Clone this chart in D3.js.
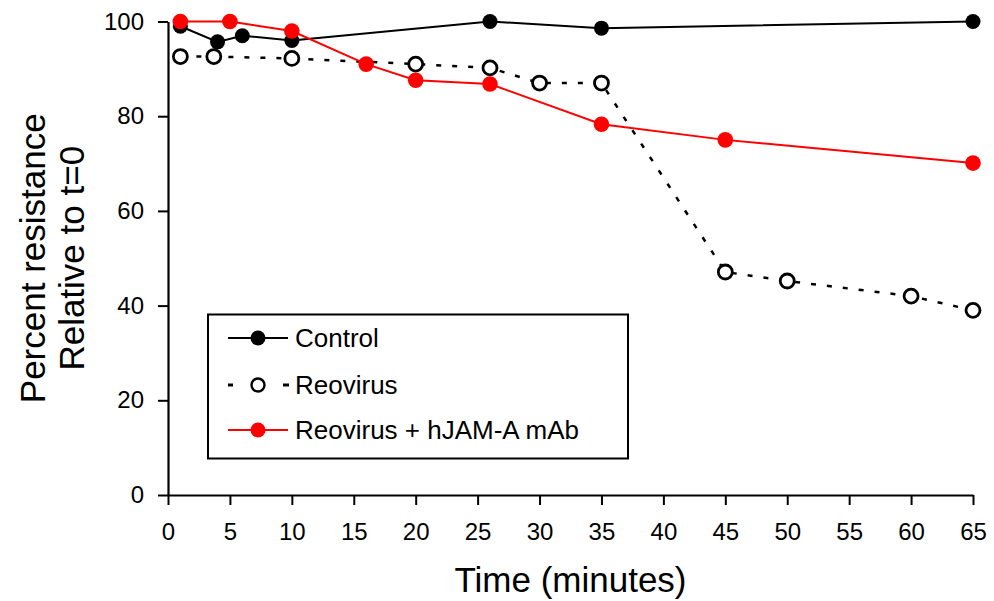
<!DOCTYPE html>
<html>
<head>
<meta charset="utf-8">
<script src="https://cdn.jsdelivr.net/npm/d3@7"></script>
<style>
  body { margin: 0; background: #fff; }
  text { font-family: "Liberation Sans", Arial, sans-serif; }
</style>
</head>
<body>
<div id="chart"></div>
<script>
// values
var controlTime = [1, 4, 6, 10, 26, 35, 65]
var controlVal  = [99, 95.7, 97, 96, 100, 98.6, 100]

var reoTime = [1, 3.7, 10, 20, 26, 30, 35, 45, 50, 60, 65]
var reoVal  = [92.6, 92.6, 92.2, 91, 90.2, 87, 87, 47.1, 45.2, 42, 39]

var mabTime = [1, 5, 10, 16, 20, 26, 35, 45, 65]
var mabVal  = [100, 100, 98, 91, 87.6, 86.8, 78.3, 75, 70.1]

var xTicks = [0, 5, 10, 15, 20, 25, 30, 35, 40, 45, 50, 55, 60, 65]
var yTicks = [0, 20, 40, 60, 80, 100]

var seriesNames = ["Control", "Reovirus", "Reovirus + hJAM-A mAb"]

var width = 994, height = 601
var svg = d3.select("#chart").append("svg")
    .attr("width", width)
    .attr("height", height)

var x = d3.scaleLinear().domain([0, 65]).range([168, 973])
var y = d3.scaleLinear().domain([0, 100]).range([495, 21.5])

var line = d3.line()
    .x(function(d) { return x(d[0]) })
    .y(function(d) { return y(d[1]) })

function zip(t, v) {
    return t.map(function(d, i) { return [d, v[i]] })
}

// axes
var yAxis = svg.append("g")
    .attr("transform", "translate(" + x(0) + ",0)")
    .call(d3.axisLeft(y).tickValues(yTicks).tickSize(10).tickPadding(14).tickSizeOuter(0))
var xAxis = svg.append("g")
    .attr("transform", "translate(0," + y(0) + ")")
    .call(d3.axisBottom(x).tickValues(xTicks).tickSize(10).tickPadding(18).tickSizeOuter(0))

svg.selectAll(".domain").attr("stroke", "#000").attr("stroke-width", 2.2)
svg.selectAll(".tick line").attr("stroke", "#000").attr("stroke-width", 2)
svg.selectAll(".tick text").attr("fill", "#000").style("font-size", "24px")
    .style("font-family", "'Liberation Sans', Arial, sans-serif")

// axis titles
svg.append("text")
    .attr("x", x(32.5)).attr("y", 592)
    .attr("text-anchor", "middle")
    .style("font-size", "35px")
    .text("Time (minutes)")

var yt = svg.append("text")
    .attr("transform", "translate(45," + y(50) + ") rotate(-90)")
    .attr("text-anchor", "middle")
    .style("font-size", "35px")
yt.append("tspan").attr("x", 0).attr("y", 0).text("Percent resistance")
yt.append("tspan").attr("x", 0).attr("y", 39).text("Relative to t=0")

// lines
svg.append("path").datum(zip(controlTime, controlVal))
    .attr("d", line).attr("fill", "none").attr("stroke", "#000").attr("stroke-width", 2)

svg.append("path").datum(zip(reoTime, reoVal))
    .attr("d", line).attr("fill", "none").attr("stroke", "#000").attr("stroke-width", 2.5)
    .attr("stroke-dasharray", "5,11")

svg.append("path").datum(zip(mabTime, mabVal))
    .attr("d", line).attr("fill", "none").attr("stroke", "#ff0000").attr("stroke-width", 2)

// markers
svg.append("g").selectAll("circle")
    .data(zip(reoTime, reoVal)).enter().append("circle")
    .attr("cx", function(d) { return x(d[0]) })
    .attr("cy", function(d) { return y(d[1]) })
    .attr("r", 7)
    .attr("fill", "#fff").attr("stroke", "#000").attr("stroke-width", 2.8)

svg.append("g").selectAll("circle")
    .data(zip(controlTime, controlVal)).enter().append("circle")
    .attr("cx", function(d) { return x(d[0]) })
    .attr("cy", function(d) { return y(d[1]) })
    .attr("r", 7.5)
    .attr("fill", "#000")

svg.append("g").selectAll("circle")
    .data(zip(mabTime, mabVal)).enter().append("circle")
    .attr("cx", function(d) { return x(d[0]) })
    .attr("cy", function(d) { return y(d[1]) })
    .attr("r", 7.8)
    .attr("fill", "#ff0000")

// legend
var legend = svg.append("g")
legend.append("rect")
    .attr("x", 208).attr("y", 314.5)
    .attr("width", 420).attr("height", 144)
    .attr("fill", "#fff").attr("stroke", "#000").attr("stroke-width", 2)

var legRows = [338, 385, 430]
var legStyle = [
    {stroke: "#000", fill: "#000", dash: null},
    {stroke: "#000", fill: "#fff", dash: "4,19"},
    {stroke: "#ff0000", fill: "#ff0000", dash: null}
]
seriesNames.forEach(function(name, i) {
    var g = legend.append("g").attr("transform", "translate(0," + legRows[i] + ")")
    var s = legStyle[i]
    if (s.dash) {
        g.append("line").attr("x1", 228).attr("x2", 233).attr("stroke", s.stroke).attr("stroke-width", 3)
        g.append("line").attr("x1", 283).attr("x2", 289).attr("stroke", s.stroke).attr("stroke-width", 3)
        g.append("circle").attr("cx", 258).attr("r", 6.5)
            .attr("fill", "#fff").attr("stroke", "#000").attr("stroke-width", 2.4)
    } else {
        g.append("line").attr("x1", 228).attr("x2", 288).attr("stroke", s.stroke).attr("stroke-width", 2)
        g.append("circle").attr("cx", 258).attr("r", 7.5).attr("fill", s.fill)
    }
    g.append("text").attr("x", 295).attr("dy", "0.36em")
        .style("font-size", "26px")
        .text(name)
})
</script>
</body>
</html>
